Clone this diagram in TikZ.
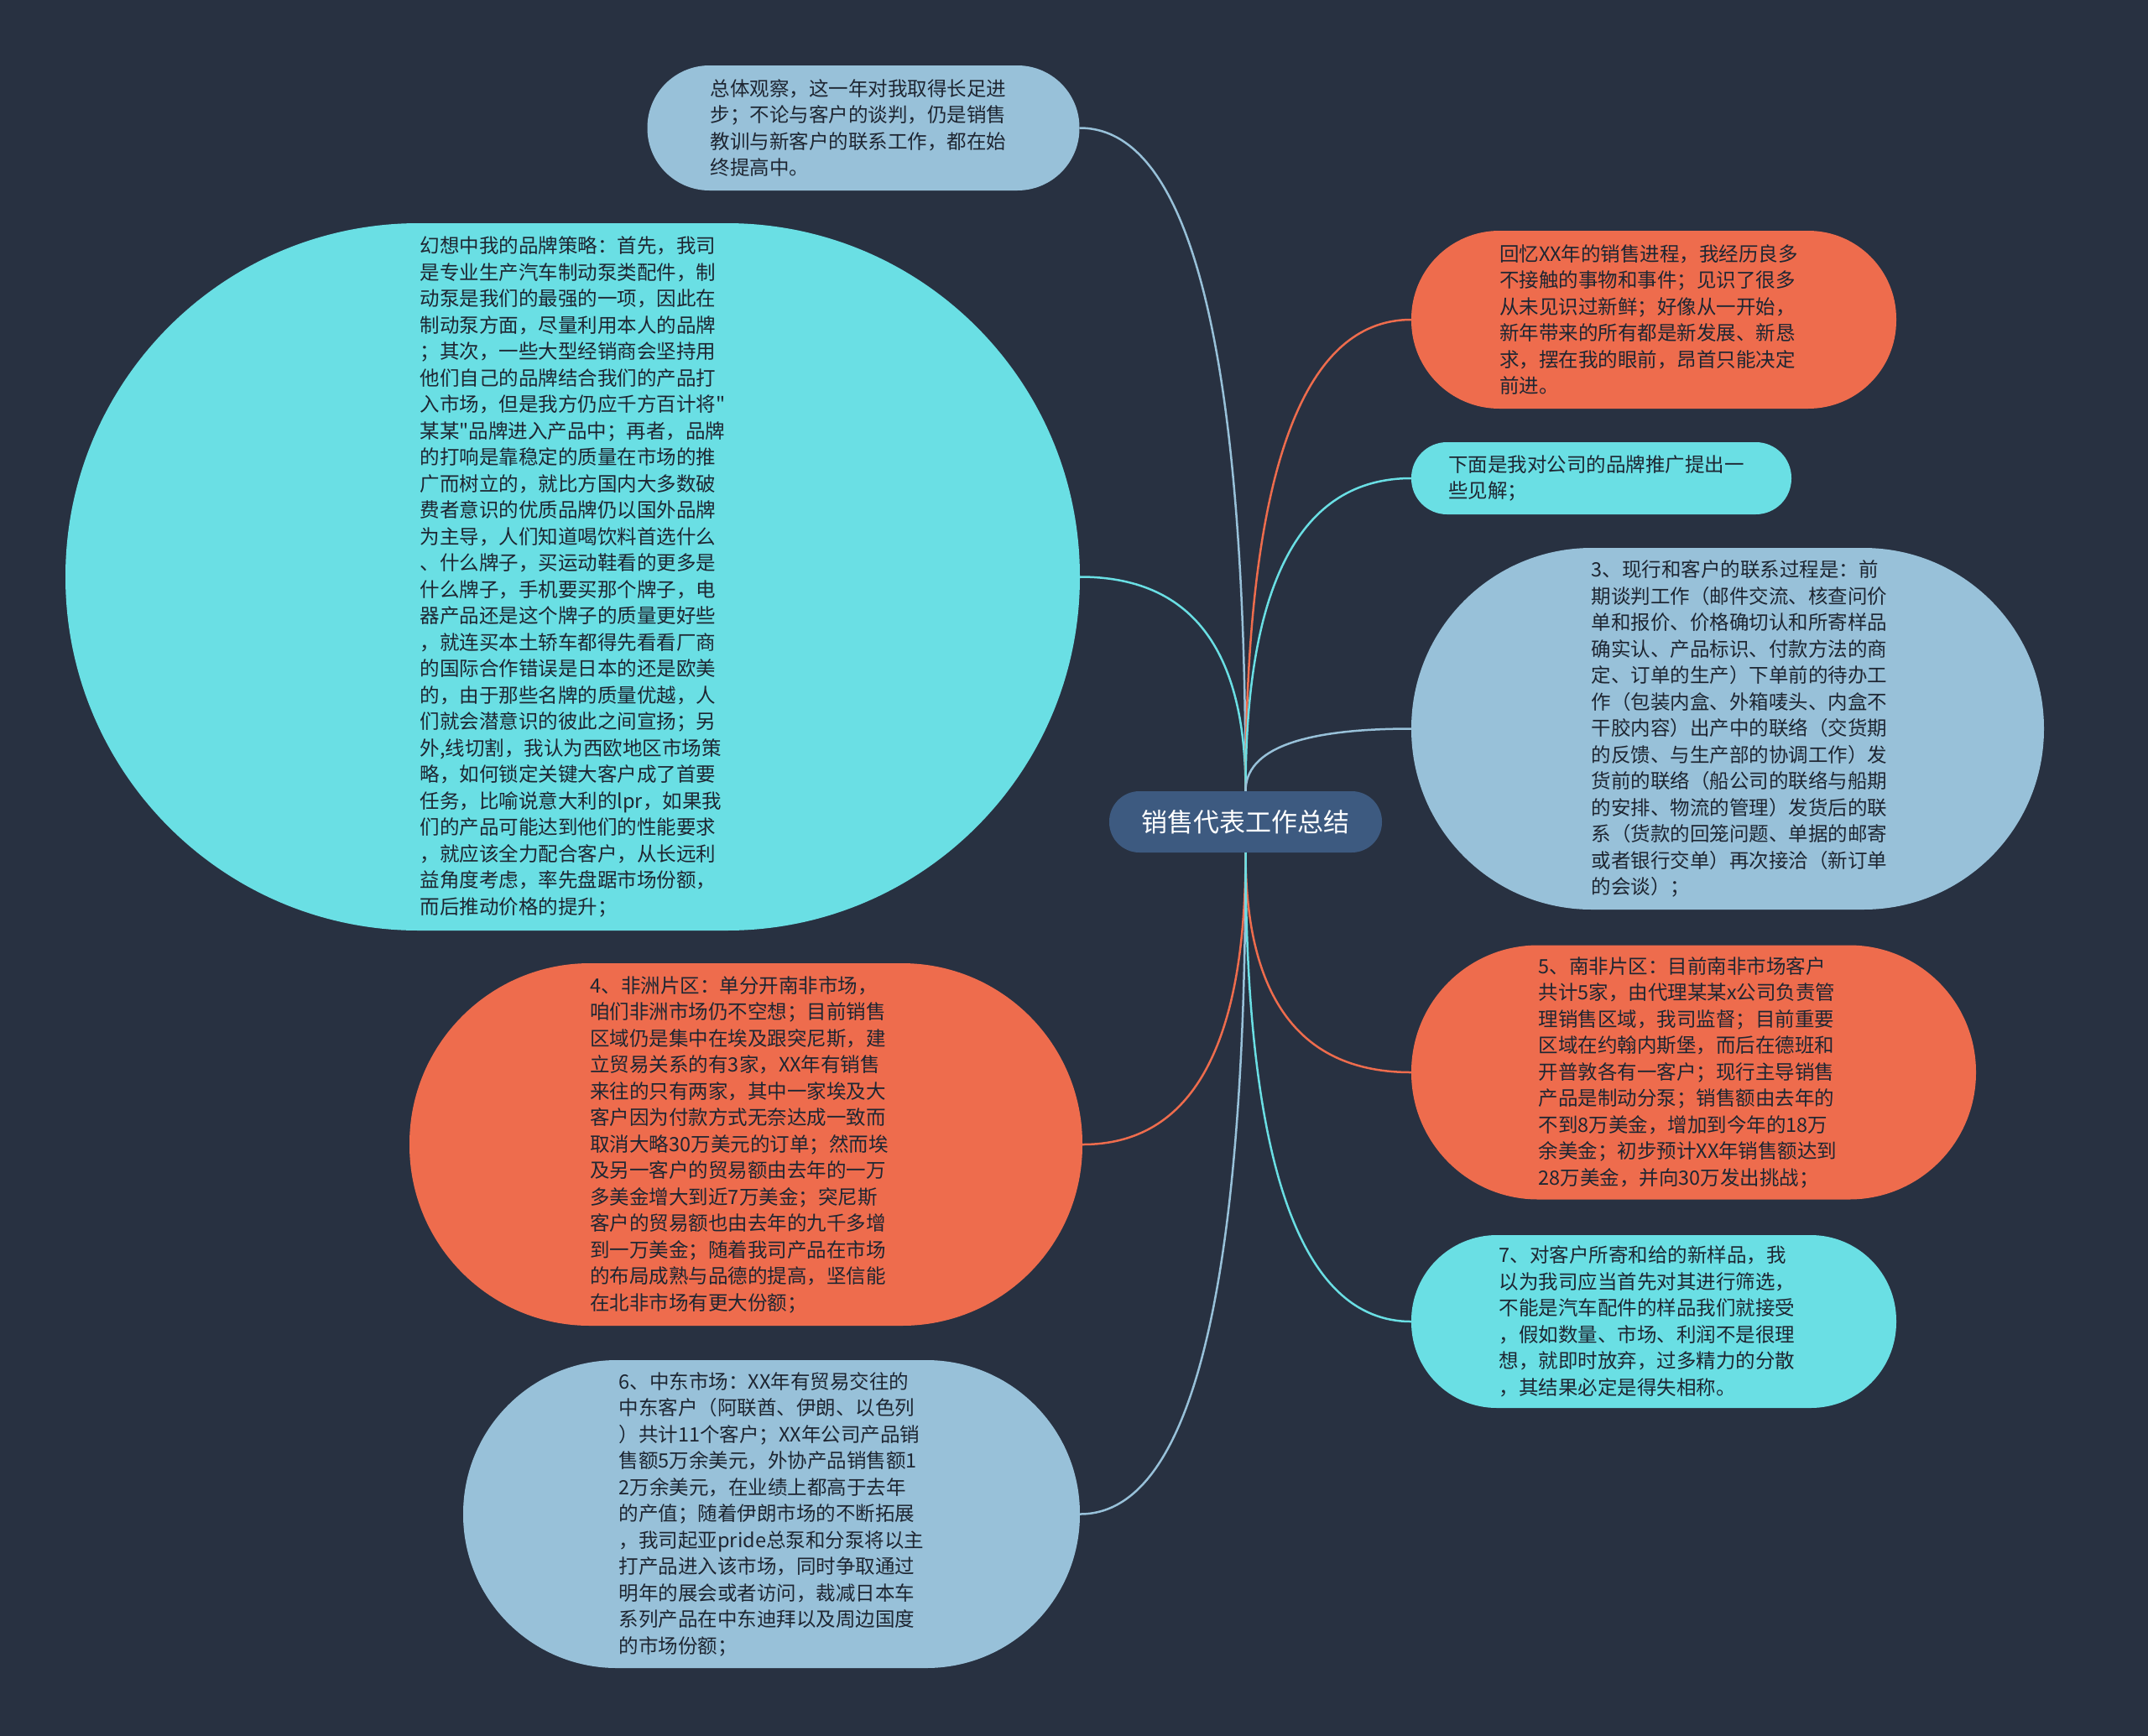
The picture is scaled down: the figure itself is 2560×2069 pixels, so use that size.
\documentclass[tikz,border=0pt]{standalone}
\usepackage{fontspec}
\newfontfamily\cjk{Noto Sans CJK SC}
\usetikzlibrary{calc}
\definecolor{bg}{HTML}{283141}
\definecolor{hubc}{HTML}{3D5A80}
\definecolor{lblue}{HTML}{98C1D9}
\definecolor{orng}{HTML}{EE6C4D}
\definecolor{cyanc}{HTML}{6ADFE4}
\definecolor{txt}{HTML}{1E2632}
\begin{document}
\begin{tikzpicture}[x=1pt,y=-1pt,
  pill/.style={rectangle, rounded corners=#1, draw=none, inner sep=0pt},
  body/.style={align=left, text=txt, font=\cjk\fontsize{23.5}{31.5}\selectfont, inner sep=0pt},
  lnk/.style={line width=2.5pt}]
\useasboundingbox (0,0) rectangle (2560,2069);
\fill[bg] (0,0) rectangle (2560,2069);

\node[pill=36pt, fill=hubc, text=white, font=\cjk\fontsize{31}{36}\selectfont,
  minimum width=325pt, minimum height=73pt] (center) at (1484.5,979.5) {销售代表工作总结};
\coordinate (hubT) at (center.north);
\coordinate (hubB) at (center.south);

\node[pill=74pt, fill=lblue, minimum width=515pt, minimum height=149pt] (n1) at (1029,152.5) {};
\node[body] (t1) at ($(n1)+(-6,0)$)
{总体观察，这一年对我取得长足进\\步；不论与客户的谈判，仍是销售\\教训与新客户的联系工作，都在始\\终提高中。};

\node[pill=421pt, fill=cyanc, minimum width=1209pt, minimum height=843pt] (n2) at (682.5,687.5) {};
\node[body] (t2) at (n2)
{幻想中我的品牌策略：首先，我司\\是专业生产汽车制动泵类配件，制\\动泵是我们的最强的一项，因此在\\制动泵方面，尽量利用本人的品牌\\；其次，一些大型经销商会坚持用\\他们自己的品牌结合我们的产品打\\入市场，但是我方仍应千方百计将"\\某某"品牌进入产品中；再者，品牌\\的打响是靠稳定的质量在市场的推\\广而树立的，就比方国内大多数破\\费者意识的优质品牌仍以国外品牌\\为主导，人们知道喝饮料首选什么\\、什么牌子，买运动鞋看的更多是\\什么牌子，手机要买那个牌子，电\\器产品还是这个牌子的质量更好些\\，就连买本土轿车都得先看看厂商\\的国际合作错误是日本的还是欧美\\的，由于那些名牌的质量优越，人\\们就会潜意识的彼此之间宣扬；另\\外,线切割，我认为西欧地区市场策\\略，如何锁定关键大客户成了首要\\任务，比喻说意大利的lpr，如果我\\们的产品可能达到他们的性能要求\\，就应该全力配合客户，从长远利\\益角度考虑，率先盘踞市场份额，\\而后推动价格的提升；};

\node[pill=105pt, fill=orng, minimum width=578pt, minimum height=212pt] (n3) at (1971,381) {};
\node[body] (t3) at ($(n3)+(-6,0)$)
{回忆XX年的销售进程，我经历良多\\不接触的事物和事件；见识了很多\\从未见识过新鲜；好像从一开始，\\新年带来的所有都是新发展、新恳\\求，摆在我的眼前，昂首只能决定\\前进。};

\node[pill=42.5pt, fill=cyanc, minimum width=453pt, minimum height=86pt] (n4) at (1908.5,570) {};
\node[body] (t4) at ($(n4)+(-6,0)$)
{下面是我对公司的品牌推广提出一\\些见解；};

\node[pill=215pt, fill=lblue, minimum width=754pt, minimum height=431pt] (n5) at (2059,868.5) {};
\node[body] (t5) at ($(n5)+(14,0)$)
{3、现行和客户的联系过程是：前\\期谈判工作（邮件交流、核查问价\\单和报价、价格确切认和所寄样品\\确实认、产品标识、付款方法的商\\定、订单的生产）下单前的待办工\\作（包装内盒、外箱唛头、内盒不\\干胶内容）出产中的联络（交货期\\的反馈、与生产部的协调工作）发\\货前的联络（船公司的联络与船期\\的安排、物流的管理）发货后的联\\系（货款的回笼问题、单据的邮寄\\或者银行交单）再次接洽（新订单\\的会谈）；};

\node[pill=215pt, fill=orng, minimum width=802pt, minimum height=432pt] (n6) at (889,1364) {};
\node[body] (t6) at ($(n6)+(-8,0)$)
{4、非洲片区：单分开南非市场，\\咱们非洲市场仍不空想；目前销售\\区域仍是集中在埃及跟突尼斯，建\\立贸易关系的有3家，XX年有销售\\来往的只有两家，其中一家埃及大\\客户因为付款方式无奈达成一致而\\取消大略30万美元的订单；然而埃\\及另一客户的贸易额由去年的一万\\多美金增大到近7万美金；突尼斯\\客户的贸易额也由去年的九千多增\\到一万美金；随着我司产品在市场\\的布局成熟与品德的提高，坚信能\\在北非市场有更大份额；};

\node[pill=151pt, fill=orng, minimum width=673pt, minimum height=303pt] (n7) at (2018.5,1278) {};
\node[body] (t7) at ($(n7)+(-7,0)$)
{5、南非片区：目前南非市场客户\\共计5家，由代理某某x公司负责管\\理销售区域，我司监督；目前重要\\区域在约翰内斯堡，而后在德班和\\开普敦各有一客户；现行主导销售\\产品是制动分泵；销售额由去年的\\不到8万美金，增加到今年的18万\\余美金；初步预计XX年销售额达到\\28万美金，并向30万发出挑战；};

\node[pill=183pt, fill=lblue, minimum width=735pt, minimum height=367pt] (n8) at (919.5,1804.5) {};
\node[body] (t8) at (n8)
{6、中东市场：XX年有贸易交往的\\中东客户（阿联酋、伊朗、以色列\\）共计11个客户；XX年公司产品销\\售额5万余美元，外协产品销售额1\\2万余美元，在业绩上都高于去年\\的产值；随着伊朗市场的不断拓展\\，我司起亚pride总泵和分泵将以主\\打产品进入该市场，同时争取通过\\明年的展会或者访问，裁减日本车\\系列产品在中东迪拜以及周边国度\\的市场份额；};

\node[pill=102pt, fill=cyanc, minimum width=578pt, minimum height=206pt] (n9) at (1971,1575) {};
\node[body] (t9) at ($(n9)+(-8,0)$)
{7、对客户所寄和给的新样品，我\\以为我司应当首先对其进行筛选，\\不能是汽车配件的样品我们就接受\\，假如数量、市场、利润不是很理\\想，就即时放弃，过多精力的分散\\，其结果必定是得失相称。};

% connectors (top hub)
\draw[lnk, lblue] (n1.east) .. controls ($(n1.east)!0.6667!(n1.east -| hubT)$) and ($(hubT)!0.6667!(n1.east -| hubT)$) .. (hubT);
\draw[lnk, cyanc] (n2.east) .. controls ($(n2.east)!0.6667!(n2.east -| hubT)$) and ($(hubT)!0.6667!(n2.east -| hubT)$) .. (hubT);
\draw[lnk, orng] (n3.west) .. controls ($(n3.west)!0.6667!(n3.west -| hubT)$) and ($(hubT)!0.6667!(n3.west -| hubT)$) .. (hubT);
\draw[lnk, cyanc] (n4.west) .. controls ($(n4.west)!0.6667!(n4.west -| hubT)$) and ($(hubT)!0.6667!(n4.west -| hubT)$) .. (hubT);
\draw[lnk, lblue] (n5.west) .. controls ($(n5.west)!0.6667!(n5.west -| hubT)$) and ($(hubT)!0.6667!(n5.west -| hubT)$) .. (hubT);
% connectors (bottom hub)
\draw[lnk, orng] (n6.east) .. controls ($(n6.east)!0.6667!(n6.east -| hubB)$) and ($(hubB)!0.6667!(n6.east -| hubB)$) .. (hubB);
\draw[lnk, lblue] (n8.east) .. controls ($(n8.east)!0.6667!(n8.east -| hubB)$) and ($(hubB)!0.6667!(n8.east -| hubB)$) .. (hubB);
\draw[lnk, orng] (n7.west) .. controls ($(n7.west)!0.6667!(n7.west -| hubB)$) and ($(hubB)!0.6667!(n7.west -| hubB)$) .. (hubB);
\draw[lnk, cyanc] (n9.west) .. controls ($(n9.west)!0.6667!(n9.west -| hubB)$) and ($(hubB)!0.6667!(n9.west -| hubB)$) .. (hubB);
\end{tikzpicture}
\end{document}
